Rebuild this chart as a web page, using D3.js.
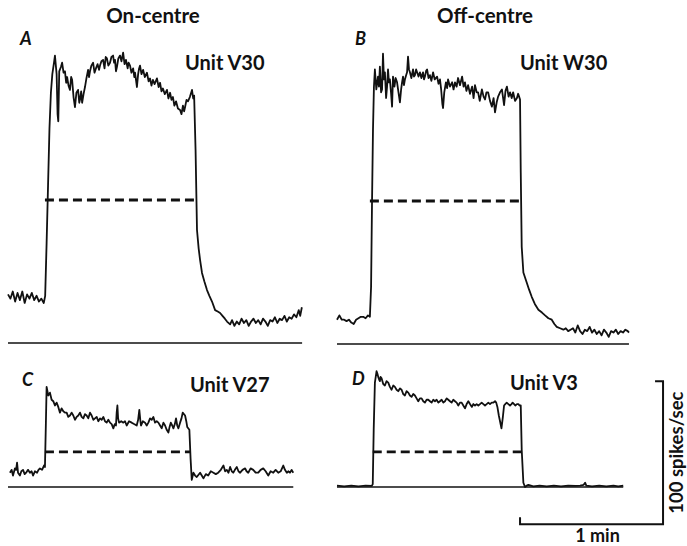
<!DOCTYPE html>
<html>
<head>
<meta charset="utf-8">
<script src="https://cdn.jsdelivr.net/npm/d3@7/dist/d3.min.js"></script>
<style>
  html, body { margin: 0; padding: 0; background: #fff; }
  svg { display: block; }
  text { font-family: Lato, "Open Sans", "DejaVu Sans", sans-serif; fill: #111; }
</style>
</head>
<body>
<svg id="chart" width="687" height="546"></svg>
<script>
// ---------------- DATA (time in s, rate in spikes/sec) ----------------
const columnTitles = ["On-centre", "Off-centre"];
const panelLetters = ["A", "B", "C", "D"];
const unitNames = ["Unit V30", "Unit W30", "Unit V27", "Unit V3"];

const traceA = [[0,34],[1,31],[2,36],[3,29],[4,35],[5,30],[6,36],[7,28],[8,34],[9,31],[10,35],[11,30],[12,33],[13,29],[14,31],[15,28],[15.6,33],
[16.2,70],[16.8,110],[17.4,150],[18.0,175],[18.6,188],[19.3,196],[19.7,201],[20.4,188],[20.8,160],[21.1,155],[21.5,190],[22.2,193],[22.7,196],[23.3,189],[23.9,190],[24.4,182],[24.8,186],[25.4,180],[26.0,177],[26.5,186],[26.9,184],[27.5,172],[28.1,165],[28.7,175],[29.4,177],[29.9,168],[30.2,170],[30.7,176],[31.1,168],[31.7,174],[32.3,179],[32.9,185],[33.6,191],[34.0,186],[34.4,190],[35.0,194],[35.7,196],[36.3,189],[36.9,192],[37.6,195],[38.2,191],[38.6,194],[39.2,197],[39.9,198],[40.5,192],[41.0,200],[41.5,199],[42.1,194],[42.8,196],[43.4,200],[44.1,201],[44.5,196],[44.9,198],[45.3,190],[45.7,193],[46.3,199],[47.0,201],[47.6,197],[48.3,203],[48.9,195],[49.5,198],[50.2,192],[50.6,196],[51.2,194],[51.8,189],[52.5,192],[53.0,186],[53.3,189],[53.7,184],[54.1,179],[54.6,188],[55.0,192],[55.4,194],[56.0,188],[56.7,191],[57.4,186],[58.3,189],[59.0,183],[59.6,185],[60.2,180],[60.8,184],[61.5,181],[62.5,185],[63.2,179],[63.8,182],[64.4,176],[65.0,178],[65.8,174],[66.7,177],[67.3,171],[68.0,175],[68.6,170],[69.2,172],[69.8,166],[70.5,169],[71.3,164],[72.2,163],[72.8,160],[73.4,166],[73.9,162],[74.3,165],[74.9,170],[75.5,169],[76.3,172],[77.2,177],[77.7,171],[78.1,173],
[78.7,135],[79.3,79],[80.0,66],[80.6,58],[81.4,49],[82.4,43],[83.5,37],[84.5,33],[85.6,29],[86.9,23],[88.0,22],[89.0,21],[90.0,19],[91.0,17],[91.9,15],[93.2,13],
[94,16],[95,12],[96,15],[97,13],[98,17],[99,14],[100,16],[101,12],[102,15],[103,17],[104,14],[105,16],[106,13],[107,17],[108,15],[109,12],[110,16],[111,15],[112,18],[113,14],[114,17],[115,16],[116,19],[117,15],[118,18],[119,17],[120,20],[121,18],[122,23],[122.6,19],[123.3,25]];

const traceB = [[0,17],[1,20],[2,17],[3,17],[4,16],[5,17],[6,15],[7,14],[8,17],[9,18],[10,19],[11,19],[12,18],[13,20],[13.8,19],
[14.3,40],[14.7,100],[15.1,150],[15.5,180],[15.9,192],[16.5,178],[17.2,187],[17.6,180],[18.0,194],[18.5,176],[18.9,178],[19.3,203],[19.7,185],[20.1,190],[20.6,172],[21.0,180],[21.4,192],[21.8,183],[22.2,185],[22.7,175],[23.1,166],[23.5,187],[24.1,180],[24.6,186],[25.2,183],[25.8,176],[26.4,169],[26.9,178],[27.3,183],[27.7,187],[28.1,181],[28.5,185],[29.0,188],[29.4,190],[29.8,201],[30.2,192],[30.6,190],[31.2,186],[31.9,192],[32.3,187],[32.7,188],[33.2,192],[33.6,190],[34.2,187],[34.8,190],[35.4,186],[36.1,190],[36.5,185],[36.9,187],[37.4,191],[37.8,192],[38.4,186],[39.0,188],[39.6,184],[40.3,190],[41.0,185],[42.0,187],[42.6,182],[43.2,185],[43.7,178],[44.2,168],[44.5,165],[45.0,176],[45.7,183],[46.2,179],[46.6,185],[47.4,180],[48.3,183],[48.9,178],[49.5,183],[50.2,180],[50.8,186],[51.6,181],[52.5,187],[53.1,180],[53.7,183],[54.3,177],[55.0,181],[55.8,175],[56.7,180],[57.3,172],[57.9,181],[58.6,176],[59.2,176],[59.9,170],[60.8,178],[61.5,173],[62.1,171],[62.7,176],[63.4,176],[64.2,170],[65.0,166],[65.7,172],[66.3,162],[67.0,169],[67.6,173],[68.4,176],[69.2,178],[69.7,172],[70.1,167],[70.7,177],[71.3,180],[72.0,173],[72.6,176],[73.3,172],[73.9,176],[74.7,170],[75.5,172],[76.0,175],[76.4,173],[76.8,171],
[77.1,120],[77.5,68],[78.2,50],[79.0,46],[79.6,43],[80.6,38],[81.7,33],[83.0,28],[84.5,24],[86.0,22],[87.3,20],[88.7,18],[90.1,17],[91.2,14],[92.2,12],[93.6,11],[95,10],
[96,11],[97,9],[98,10],[99,11],[100,8],[101,13],[102,9],[103,7],[104,10],[105,9],[106,12],[107,8],[108,10],[109,7],[110,9],[111,6],[112,10],[113,8],[114,5],[115,9],[116,8],[117,10],[118,7],[119,9],[120,8],[121,10],[122,9],[122.5,8]];

const traceC = [[0.8,10],[1.5,12],[2.1,8],[2.9,13],[3.4,12],[3.8,17],[4.2,10],[5.0,8],[5.6,11],[6.3,12],[7.0,9],[7.6,10],[8.4,12],[9.2,10],[9.9,11],[10.5,8],[11.3,11],[12.2,10],[12.8,12],[13.4,13],[14.3,12],[15.1,15],[15.5,14],
[15.9,45],[16.2,70],[16.9,64],[17.6,66],[18.3,61],[19.0,60],[19.7,57],[20.4,59],[21.1,56],[21.8,52],[22.5,55],[23.2,53],[23.9,52],[24.6,52],[25.3,49],[26.0,50],[26.7,52],[27.4,50],[28.1,47],[28.8,49],[29.5,50],[30.2,52],[30.9,49],[31.6,48],[32.3,51],[33.0,50],[33.7,48],[34.4,52],[35.1,50],[35.8,47],[36.5,48],[37.2,49],[37.9,46],[38.6,48],[39.3,47],[40.0,49],[40.7,46],[41.4,45],[42.1,47],[42.8,45],[43.5,44],[44.2,41],[44.8,44],[45.3,43],[45.6,52],[45.9,57],[46.2,48],[46.6,45],[47.5,46],[48.4,45],[49.1,46],[49.8,43],[50.8,46],[51.9,45],[52.9,44],[54.0,43],[54.6,47],[55.1,54],[55.5,47],[55.8,43],[56.6,46],[57.5,45],[58.2,43],[58.9,45],[59.6,48],[60.3,47],[61.0,49],[61.7,45],[62.4,46],[63.1,45],[63.8,43],[64.5,41],[65.2,45],[65.9,43],[66.6,40],[67.3,38],[67.8,42],[68.3,45],[68.9,43],[69.4,41],[70.0,44],[70.5,48],[71.0,43],[71.5,41],[72.2,45],[72.8,48],[73.3,52],[73.8,51],[74.3,50],[74.8,46],[75.2,42],[76.1,40],
[76.6,20],[77.1,5],[77.8,10],[78.5,8],[79.2,7],[80.6,10],[81.3,8],[82.0,6],[83.0,9],[84.0,8],[85.1,11],[86.2,10],[87.2,9],[88.2,10],[89.3,12],[90.4,15],[91.1,11],[91.8,12],[92.5,10],[93.2,14],[93.9,11],[94.5,10],[95.2,12],[96.0,14],[96.7,11],[97.4,10],[98.4,12],[99.5,13],[100.1,11],[100.8,10],[101.8,13],[102.9,12],[103.9,10],[105.0,10],[106.0,12],[107.1,13],[108.1,11],[109.2,8],[110.2,11],[111.3,10],[112.3,12],[113.4,10],[114.4,11],[115.5,15],[116.2,12],[117.0,10],[117.7,11],[118.3,10],[119.0,12],[119.7,10]];

const traceD = [[0,1],[3,0.5],[6,1],[9,0.5],[12,1],[14.6,0.8],
[15.0,2],[15.4,40],[15.9,73],[16.6,81],[17.0,79],[17.3,77],[17.7,75],[18.0,74],[18.3,77],[18.7,76],[19.4,72],[20.1,71],[20.8,74],[21.5,73],[22.2,70],[22.9,68],[23.6,71],[24.3,70],[25.0,68],[25.7,67],[26.4,69],[27.1,68],[27.8,65],[28.5,64],[29.2,67],[29.9,66],[30.6,64],[31.3,63],[32.0,65],[32.7,64],[33.4,62],[34.1,60],[34.8,62],[35.5,62],[36.2,60],[36.9,59],[37.6,61],[38.3,61],[39.0,60],[39.7,59],[40.4,61],[41.1,60],[41.8,61],[42.5,59],[43.2,60],[43.9,61],[44.6,59],[45.3,60],[46.0,62],[46.7,61],[47.4,60],[48.1,59],[48.8,61],[49.5,60],[50.2,59],[50.9,57],[51.6,59],[52.3,59],[53.0,57],[53.7,55],[54.4,58],[55.1,60],[55.8,58],[56.6,56],[57.2,58],[57.9,57],[58.6,58],[59.3,57],[60.0,58],[60.7,59],[61.4,58],[62.1,57],[62.8,58],[63.5,59],[64.2,58],[64.9,59],[65.6,59],[66.3,60],[66.8,59],[67.3,56],[67.9,50],[68.4,46],[69.0,41],[69.6,49],[70.1,57],[70.6,58],[71.2,59],[71.9,58],[72.6,57],[73.2,58],[73.7,59],[74.3,58],[74.8,57],[75.5,58],[76.1,58],[76.6,57],[77.1,57],
[77.5,26],[78.2,3],[78.9,0],[79.6,1],[80.3,1.5],[82.4,0.5],[85,1],[88,0.5],[91,1],[94,0.5],[97,1],[100,0.8],[102,1],[103.5,1.5],[104.1,3],[104.6,1],[107,0.5],[110,1],[113,0.5],[116,1],[118,0.5],[120.1,1]];

// dashed reference level: [tStart, tEnd, rate]
const dashA = [15.5, 78.5, 100];
const dashB = [13.8, 77.1, 100];
const dashC = [15.5, 76.4, 24.5];
const dashD = [15.0, 77.5, 24.5];
// zero-line extent in s
const zeroA = [0, 123.4];
const zeroB = [0, 122.5];
const zeroC = [0, 119.7];
const zeroD = [0, 120.1];

// calibration bar
const barRate = 100;   // spikes/sec
const barTime = 60;    // s (1 min)
const barLabels = ["100 spikes/sec", "1 min"];

// ---------------- LAYOUT ----------------
const pxPerMin = 143, pxPer100 = 143;
const panels = [
  {trace: traceA, dash: dashA, zero: zeroA, x0: 8,   y0: 343, letter: [20, 45],  unit: [185, 70]},
  {trace: traceB, dash: dashB, zero: zeroB, x0: 337, y0: 344, letter: [355, 45], unit: [520, 70]},
  {trace: traceC, dash: dashC, zero: zeroC, x0: 8,   y0: 487, letter: [22, 386], unit: [190, 392]},
  {trace: traceD, dash: dashD, zero: zeroD, x0: 337, y0: 487, letter: [352, 385], unit: [510, 390]}
];

const svg = d3.select("#chart");
const ink = "#111";

panels.forEach((p, i) => {
  const x = d3.scaleLinear().domain([0, 60]).range([p.x0, p.x0 + pxPerMin]);
  const y = d3.scaleLinear().domain([0, 100]).range([p.y0, p.y0 - pxPer100]);
  p.x = x; p.y = y;
  const g = svg.append("g");

  g.append("line")
    .attr("x1", x(p.zero[0])).attr("x2", x(p.zero[1]))
    .attr("y1", y(0)).attr("y2", y(0))
    .attr("stroke", ink).attr("stroke-width", 1.6);

  g.append("line")
    .attr("x1", x(p.dash[0])).attr("x2", x(p.dash[1]))
    .attr("y1", y(p.dash[2])).attr("y2", y(p.dash[2]))
    .attr("stroke", ink).attr("stroke-width", 2.8)
    .attr("stroke-dasharray", "9,5");

  const line = d3.line().x(d => x(d[0])).y(d => y(d[1]));
  g.append("path").datum(p.trace)
    .attr("d", line)
    .attr("fill", "none").attr("stroke", ink)
    .attr("stroke-width", 1.8).attr("stroke-linejoin", "round");

  g.append("text").attr("x", p.letter[0]).attr("y", p.letter[1])
    .attr("font-size", 18).attr("font-style", "italic").attr("font-weight", "bold")
    .text(panelLetters[i]);
  g.append("text").attr("x", p.unit[0]).attr("y", p.unit[1])
    .attr("font-size", 20).attr("font-weight", "bold")
    .text(unitNames[i]);
});

svg.append("text").attr("x", 153).attr("y", 23).attr("text-anchor", "middle")
  .attr("font-size", 20.5).attr("font-weight", "bold").text(columnTitles[0]);
svg.append("text").attr("x", 485).attr("y", 23).attr("text-anchor", "middle")
  .attr("font-size", 20.5).attr("font-weight", "bold").text(columnTitles[1]);

// calibration bar (uses panel D scales)
const pD = panels[3];
const bt0 = 76.8, br0 = -26;
const bx1 = pD.x(bt0), bx2 = pD.x(bt0 + barTime);
const by1 = pD.y(br0), by2 = pD.y(br0 + barRate);
const bar = d3.path();
bar.moveTo(bx1, by1 - 7);
bar.lineTo(bx1, by1);
bar.lineTo(bx2, by1);
bar.lineTo(bx2, by2);
bar.lineTo(bx2 - 8, by2);
svg.append("path").attr("d", bar.toString())
  .attr("fill", "none").attr("stroke", ink).attr("stroke-width", 2);

svg.append("text").attr("x", (bx1 + bx2) / 2 + 6).attr("y", 542).attr("text-anchor", "middle")
  .attr("font-size", 18).attr("font-weight", "bold").text(barLabels[1]);
svg.append("text")
  .attr("transform", `translate(683,${(by1 + by2) / 2}) rotate(-90)`)
  .attr("text-anchor", "middle")
  .attr("font-size", 18.5).attr("font-weight", "bold").text(barLabels[0]);
</script>
</body>
</html>
